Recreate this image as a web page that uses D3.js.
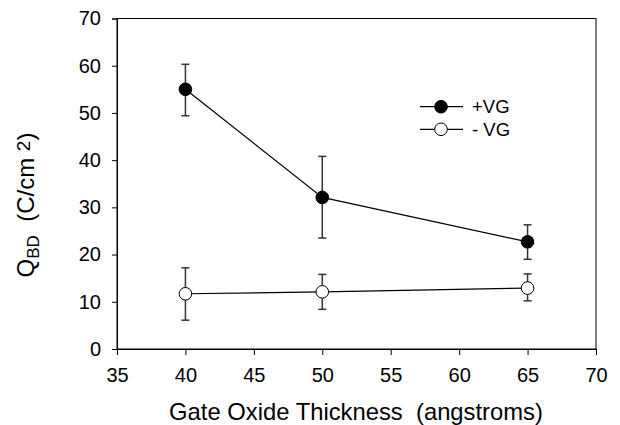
<!DOCTYPE html>
<html>
<head>
<meta charset="utf-8">
<script src="https://cdn.jsdelivr.net/npm/d3@7/dist/d3.min.js"></script>
<style>
  body { margin: 0; background: #fff; }
  svg { display: block; font-family: "Liberation Sans", Arial, sans-serif; }
</style>
</head>
<body>
<svg id="chart" width="620" height="425"></svg>
<script>
const thickness = [40, 50, 65];
const posVG = [55.0, 32.1, 22.7];
const posVGHigh = [60.3, 40.8, 26.3];
const posVGLow = [49.4, 23.5, 19.0];
const negVG = [11.7, 12.1, 12.9];
const negVGHigh = [17.2, 15.8, 15.9];
const negVGLow = [6.1, 8.4, 10.2];
const xTicks = [35, 40, 45, 50, 55, 60, 65, 70];
const yTicks = [0, 10, 20, 30, 40, 50, 60, 70];
const seriesNames = ["+VG", "- VG"];

const svg = d3.select("#chart");
const x = d3.scaleLinear().domain([35, 70]).range([117, 596]);
const y = d3.scaleLinear().domain([0, 70]).range([349, 18.5]);

// frame
svg.append("rect")
  .attr("x", x(35)).attr("y", y(70))
  .attr("width", x(70) - x(35)).attr("height", y(0) - y(70))
  .attr("fill", "none").attr("stroke", "#000").attr("stroke-width", 1);

const xAxis = svg.append("g").attr("transform", `translate(0,${y(0)})`)
  .call(d3.axisBottom(x).tickValues(xTicks).tickSize(6).tickPadding(12.5).tickFormat(d3.format("d")));
const yAxis = svg.append("g").attr("transform", `translate(${x(35)},0)`)
  .call(d3.axisLeft(y).tickValues(yTicks).tickSize(5).tickPadding(11).tickFormat(d3.format("d")));
[xAxis, yAxis].forEach(g => {
  g.select(".domain").attr("stroke", "#000");
  g.selectAll(".tick line").attr("stroke", "#000");
  g.selectAll(".tick text").attr("fill", "#000").style("font-size", "20px")
    .style("font-family", '"Liberation Sans", Arial, sans-serif');
});

// axis titles
svg.append("text")
  .attr("x", 356).attr("y", 420)
  .attr("text-anchor", "middle").style("font-size", "23.8px")
  .style("white-space", "pre").attr("fill", "#000")
  .text("Gate Oxide Thickness  (angstroms)");

const yl = svg.append("text")
  .attr("transform", "translate(33.5,205) rotate(-90)")
  .attr("text-anchor", "middle").style("font-size", "24px")
  .style("white-space", "pre").attr("fill", "#000");
yl.append("tspan").text("Q");
yl.append("tspan").attr("dy", 5).style("font-size", "17px").text("BD");
yl.append("tspan").attr("dy", -5).text("  (C/cm ");
yl.append("tspan").attr("dy", -4).style("font-size", "19px").text("2");
yl.append("tspan").attr("dy", 4).text(")");

function drawSeries(vals, hi, lo, fill) {
  const pts = thickness.map((t, i) => ({t, v: vals[i], h: hi[i], l: lo[i]}));
  const line = d3.line().x(d => x(d.t)).y(d => y(d.v));
  svg.append("path").datum(pts).attr("d", line)
    .attr("fill", "none").attr("stroke", "#000").attr("stroke-width", 1.2);
  const eb = svg.append("g").attr("stroke", "#333").attr("stroke-width", 1.5);
  pts.forEach(d => {
    eb.append("line").attr("x1", x(d.t)).attr("x2", x(d.t)).attr("y1", y(d.h)).attr("y2", y(d.l));
    eb.append("line").attr("x1", x(d.t) - 4).attr("x2", x(d.t) + 4).attr("y1", y(d.h)).attr("y2", y(d.h));
    eb.append("line").attr("x1", x(d.t) - 4).attr("x2", x(d.t) + 4).attr("y1", y(d.l)).attr("y2", y(d.l));
  });
  svg.append("g").selectAll("circle").data(pts).join("circle")
    .attr("cx", d => x(d.t)).attr("cy", d => y(d.v)).attr("r", 6.3)
    .attr("fill", fill).attr("stroke", "#000").attr("stroke-width", 1);
}
drawSeries(posVG, posVGHigh, posVGLow, "#000");
drawSeries(negVG, negVGHigh, negVGLow, "#fff");

// legend
const legRows = [{name: seriesNames[0], fill: "#000", cy: 106.7}, {name: seriesNames[1], fill: "#fff", cy: 129.3}];
legRows.forEach(r => {
  svg.append("line").attr("x1", 420).attr("x2", 463).attr("y1", r.cy).attr("y2", r.cy)
    .attr("stroke", "#000").attr("stroke-width", 1.2);
  svg.append("circle").attr("cx", 441).attr("cy", r.cy).attr("r", 6.3)
    .attr("fill", r.fill).attr("stroke", "#000").attr("stroke-width", 1);
  svg.append("text").attr("x", 472).attr("y", r.cy + 6.5).style("font-size", "18.5px")
    .style("white-space", "pre").attr("fill", "#000").text(r.name);
});
</script>
</body>
</html>
